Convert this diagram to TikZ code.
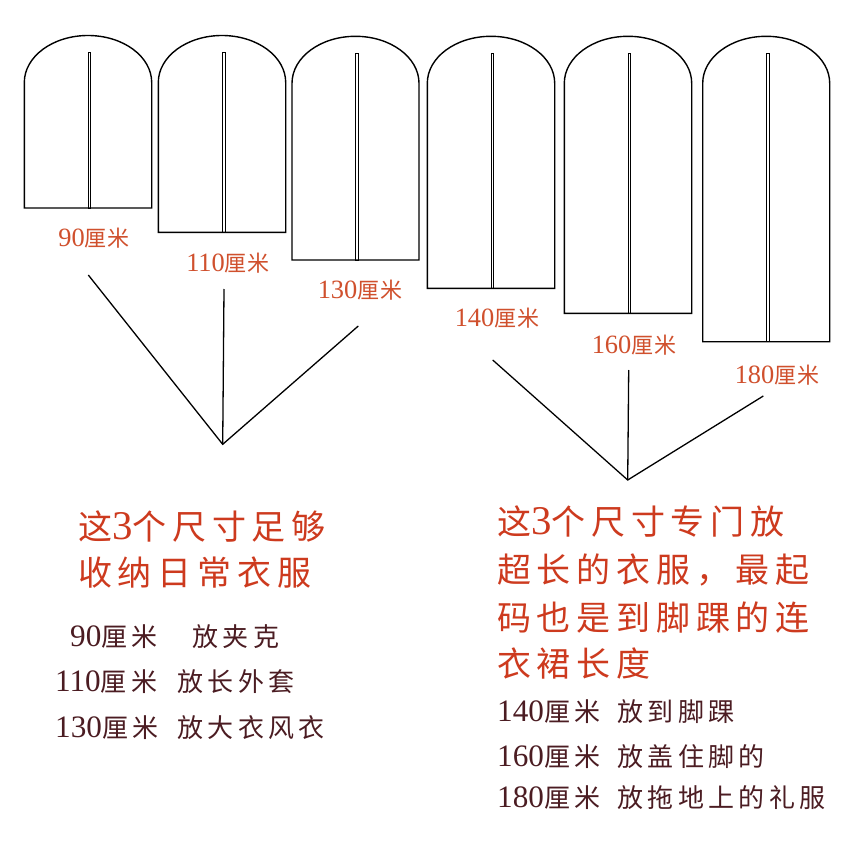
\documentclass[tikz,border=0pt]{standalone}
\usepackage{fontspec}
\usepackage{tikz}
\newfontfamily\cjkwide[LetterSpace=17]{Noto Sans CJK SC}
\newfontfamily\cjktag[LetterSpace=4]{Noto Sans CJK SC}
\newfontfamily\numfont[Scale=1.2]{Liberation Serif}
\newcommand{\dg}[1]{{\numfont #1}}
\definecolor{tagred}{RGB}{208,80,45}
\definecolor{headred}{RGB}{205,58,30}
\definecolor{usebrown}{RGB}{75,28,34}

\begin{document}
\begin{tikzpicture}[x=1pt,y=-1pt,
    bag/.style={line width=1.4pt},
    zip/.style={line width=0.8pt},
    link/.style={line width=1.3pt},
    tag/.style={text=tagred,font=\cjktag\fontsize{22}{26}\selectfont,inner sep=0pt},
    head/.style={text=headred,font=\cjkwide\fontsize{34}{40}\selectfont,anchor=west,inner sep=0pt},
    use/.style={text=usebrown,font=\cjkwide\fontsize{26}{30}\selectfont,anchor=west,inner sep=0pt}]
    \useasboundingbox[fill=white] (0,0) rectangle (850,850);
    % garment bags
    \draw[bag] (24.3,208) -- (24.3,82.5) arc[start angle=180,end angle=360,x radius=63.7,y radius=47] -- (151.7,208) -- cycle;
    \draw[zip] (88,52) rectangle (90.7,208);
    \draw[bag] (158.3,232.3) -- (158.3,82.5) arc[start angle=180,end angle=360,x radius=63.7,y radius=47] -- (285.7,232.3) -- cycle;
    \draw[zip] (222.7,52) rectangle (225.4,232.3);
    \draw[bag] (292,260) -- (292,83.3) arc[start angle=180,end angle=360,x radius=63.5,y radius=47] -- (419,260) -- cycle;
    \draw[zip] (355.7,53.3) rectangle (358.4,260);
    \draw[bag] (427.3,288.3) -- (427.3,83.3) arc[start angle=180,end angle=360,x radius=63.7,y radius=47] -- (554.7,288.3) -- cycle;
    \draw[zip] (491,53.3) rectangle (493.7,288.3);
    \draw[bag] (564.3,313.3) -- (564.3,83.3) arc[start angle=180,end angle=360,x radius=63.7,y radius=47] -- (691.7,313.3) -- cycle;
    \draw[zip] (628,53.3) rectangle (630.7,313.3);
    \draw[bag] (702.7,341.7) -- (702.7,83.3) arc[start angle=180,end angle=360,x radius=63.5,y radius=47] -- (829.7,341.7) -- cycle;
    \draw[zip] (766.4,53.3) rectangle (769.1,341.7);
    % size tags
    \node[tag] (tag90) at (94,238) {\dg{90}厘米};
    \node[tag] (tag110) at (228,263) {\dg{110}厘米};
    \node[tag] (tag130) at (360,290) {\dg{130}厘米};
    \node[tag] (tag140) at (497,318) {\dg{140}厘米};
    \node[tag] (tag160) at (634,345) {\dg{160}厘米};
    \node[tag] (tag180) at (777,375) {\dg{180}厘米};
    % fans
    \coordinate (f90) at (88.3,275);
    \coordinate (f110) at (224,289);
    \coordinate (f130) at (358.3,326);
    \coordinate (jL) at (222.7,444.3);
    \coordinate (f140) at (492.7,360);
    \coordinate (f160) at (628.7,370);
    \coordinate (f180) at (763.3,396);
    \coordinate (jR) at (627.7,480);
    \draw[link] (f90) -- (jL) -- (f130);
    \draw[link] (f110) -- (jL);
    \draw[link] (f140) -- (jR) -- (f180);
    \draw[link] (f160) -- (jR);
    % left notes
    \node[head] (headL1) at (78,527) {这\dg{3}个尺寸足够};
    \node[head] (headL2) at (78,573) {收纳日常衣服};
    \node[use] (sz90) at (70,637) {\dg{90}厘米};
    \node[use] (use90) at (192,637) {放夹克};
    \node[use] (sz110) at (55,682) {\dg{110}厘米};
    \node[use] (use110) at (177,682) {放长外套};
    \node[use] (sz130) at (55,728) {\dg{130}厘米};
    \node[use] (use130) at (177,728) {放大衣风衣};
    % right notes
    \node[head] (headR1) at (497,522) {这\dg{3}个尺寸专门放};
    \node[head] (headR2) at (497,570) {超长的衣服，最起};
    \node[head] (headR3) at (497,618) {码也是到脚踝的连};
    \node[head] (headR4) at (497,663) {衣裙长度};
    \node[use] (sz140) at (497,712) {\dg{140}厘米};
    \node[use] (use140) at (617,712) {放到脚踝};
    \node[use] (sz160) at (497,757) {\dg{160}厘米};
    \node[use] (use160) at (617,757) {放盖住脚的};
    \node[use] (sz180) at (497,798) {\dg{180}厘米};
    \node[use] (use180) at (617,798) {放拖地上的礼服};
\end{tikzpicture}
\end{document}
